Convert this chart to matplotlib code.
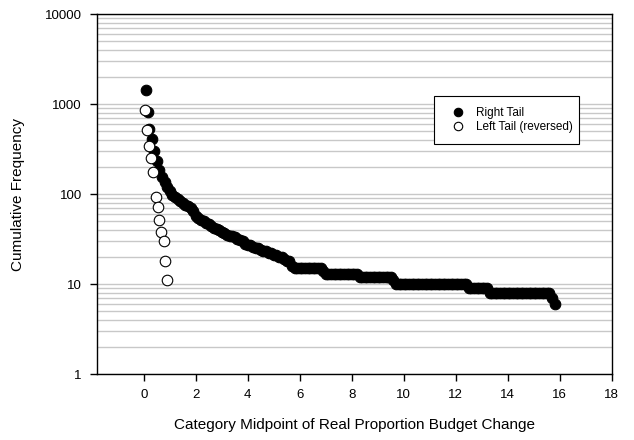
import numpy as np
import matplotlib.pyplot as plt
from matplotlib.patches import Rectangle
from matplotlib.ticker import FixedLocator, NullFormatter, LogLocator

plt.rcParams['font.family'] = ['Liberation Sans', 'DejaVu Sans']

# ─── data: cumulative frequency by category midpoint ─────────────
right_x = [0.08, 0.15, 0.2, 0.3,
           0.4, 0.5, 0.6, 0.7, 0.8, 0.9, 1.0, 1.1, 1.2, 1.3, 1.4, 1.5,
           1.6, 1.7, 1.8, 1.9, 2.0, 2.1, 2.2, 2.3, 2.4, 2.5, 2.6, 2.7,
           2.8, 2.9, 3.0, 3.1, 3.2, 3.3, 3.4, 3.5, 3.6, 3.7, 3.8, 3.9,
           4.0, 4.1, 4.2, 4.3, 4.4, 4.5, 4.6, 4.7, 4.8, 4.9, 5.0, 5.1,
           5.2, 5.3, 5.4, 5.5, 5.6, 5.7]
right_y = [1430, 810, 530, 405,
           300, 235, 185, 155, 135, 120, 108, 98, 92, 87, 83, 79,
           76, 73, 70, 64, 57, 54, 52, 50, 48, 46, 44, 42,
           41, 40, 38, 37, 35, 34, 34, 33, 32, 31, 30, 28,
           27, 27, 26, 25, 25, 24, 23, 23, 22, 22, 21, 21,
           20, 20, 19, 18, 18, 16]

# long tail: plateaus of equal cumulative frequency (midpoints 5.8 … 15.8)
tail_x = np.round(np.arange(5.8, 15.85, 0.1), 1)
tail_y = ([15] * 11 + [14] + [13] * 13 + [12] * 13 + [11] + [10] * 28
          + [9] * 8 + [8] * 24 + [7] + [6])

left_x = [0.06, 0.14, 0.2, 0.28, 0.37, 0.46, 0.53, 0.59, 0.67, 0.76, 0.82, 0.9]
left_y = [863, 518, 345, 250, 177, 93, 72, 52, 38, 30, 18, 11]

rx = np.concatenate([right_x, tail_x])
ry = np.concatenate([right_y, tail_y])

# ─── figure ──────────────────────────────────────────────────────
fig = plt.figure(figsize=(6.34, 4.40), dpi=100)
ax = fig.add_axes([0.153, 0.15, 0.812, 0.818])

ax.plot(rx, ry, 'o', ms=7.6, mfc='black', mec='black', mew=0.8,
        label='Right Tail', zorder=3)
ax.plot(left_x, left_y, 'o', ms=7.6, mfc='white', mec='black', mew=0.8,
        label='Left Tail (reversed)', zorder=4)

ax.set_yscale('log')
ax.set_ylim(1, 10000)
ax.set_xlim(-1.8, 18)
ax.set_xticks(np.arange(0, 19, 2))
ax.yaxis.set_major_locator(FixedLocator([1, 10, 100, 1000, 10000]))
ax.set_yticklabels(['1', '10', '100', '1000', '10000'])
ax.yaxis.set_minor_locator(LogLocator(base=10, subs=np.arange(2, 10)))
ax.yaxis.set_minor_formatter(NullFormatter())

ax.grid(True, which='both', axis='y', color='#c8c8c8', lw=1.0, zorder=0)
ax.set_axisbelow(True)
ax.tick_params(axis='both', which='major', direction='out', length=5,
               width=1, labelsize=9.5, pad=6)
ax.tick_params(axis='y', which='minor', length=0)
for s in ax.spines.values():
    s.set_linewidth(1.0)

ax.set_xlabel('Category Midpoint of Real Proportion Budget Change',
              fontsize=11, labelpad=12)
ax.set_ylabel('Cumulative Frequency', fontsize=11, labelpad=14)

# legend box drawn separately so the text can sit close to the right edge
ax.add_patch(Rectangle((0.654, 0.638), 0.282, 0.134, transform=ax.transAxes,
                       facecolor='white', edgecolor='black', lw=0.8,
                       zorder=5))
leg = ax.legend(loc='upper left', bbox_to_anchor=(0.6895, 0.742),
                fontsize=8.5, frameon=False, borderpad=0,
                handlelength=1.0, handletextpad=1.0, markerscale=0.8,
                labelspacing=0.2, borderaxespad=0)
leg.set_zorder(6)

fig.savefig('out.png', dpi=100)
